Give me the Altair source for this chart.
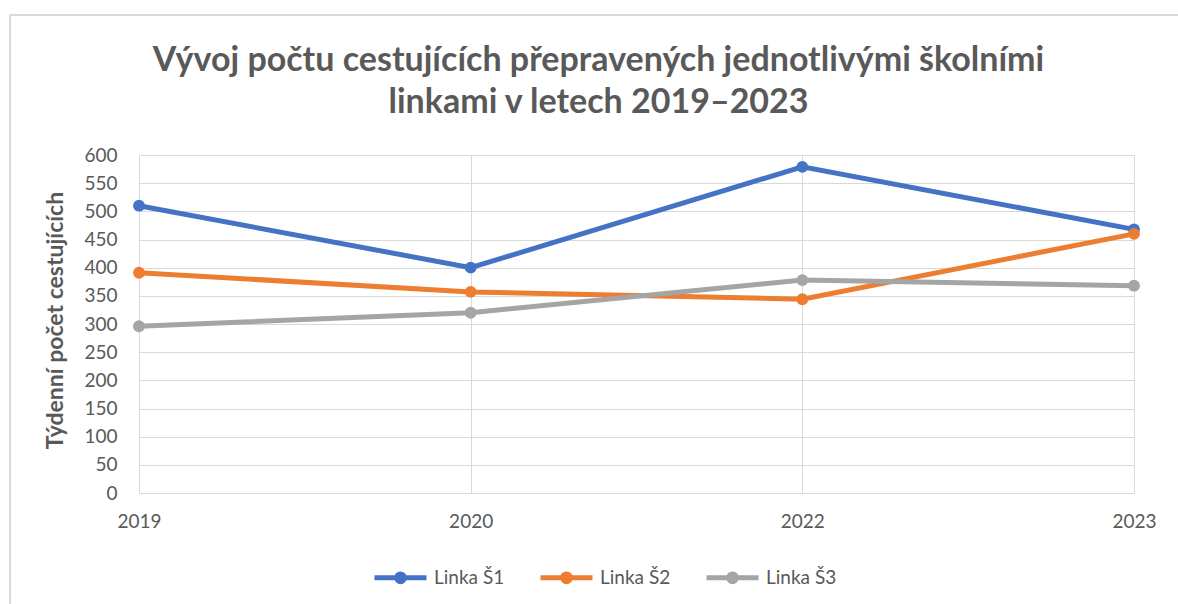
import altair as alt
import pandas as pd

years = ["2019", "2020", "2022", "2023"]
series_names = ["Linka Š1", "Linka Š2", "Linka Š3"]
linka_s1 = [510, 400, 579, 468]
linka_s2 = [391, 357, 344, 460]
linka_s3 = [296, 320, 378, 368]
colors = ["#4472C4", "#ED7D31", "#A5A5A5"]
y_ticks = list(range(0, 601, 50))

rows = []
for name, vals in zip(series_names, [linka_s1, linka_s2, linka_s3]):
    for yr, v in zip(years, vals):
        rows.append({"Rok": yr, "Linka": name, "Počet": v})
df = pd.DataFrame(rows)

FONT = "Lato"
GREY = "#595959"
GRID = "#d9d9d9"

legend_path = ("M-1,0H1"
               "M0.15,0A0.15,0.15,0,1,1,-0.15,0A0.15,0.15,0,1,1,0.15,0"
               "M0.06,0A0.06,0.06,0,1,1,-0.06,0A0.06,0.06,0,1,1,0.06,0")

lines = alt.Chart(df).mark_line(
    strokeWidth=5,
    point=alt.OverlayMarkDef(filled=True, size=140, opacity=1),
).encode(
    x=alt.X("Rok:O", sort=years,
            scale=alt.Scale(type="point", padding=0),
            axis=alt.Axis(title=None, labelAngle=0, grid=True, gridColor=GRID,
                          ticks=False, domain=False, labelPadding=19,
                          labelFont=FONT, labelFontSize=19, labelColor=GREY)),
    y=alt.Y("Počet:Q", scale=alt.Scale(domain=[0, 600], nice=False),
            axis=alt.Axis(values=y_ticks, title="Týdenní počet cestujících",
                          grid=True, gridColor=GRID, ticks=False, domain=False,
                          labelPadding=22, labelFont=FONT, labelFontSize=19,
                          labelColor=GREY, titleFont=FONT, titleFontSize=23,
                          titleFontWeight="bold", titleColor=GREY,
                          titleX=-84, titleY=165, titleAngle=270,
                          titleBaseline="middle", titleAlign="center")),
    color=alt.Color("Linka:N", sort=series_names,
                    scale=alt.Scale(domain=series_names, range=colors),
                    legend=alt.Legend(title=None, orient="none",
                                      direction="horizontal",
                                      legendX=233, legendY=394,
                                      symbolType=legend_path, symbolSize=2704,
                                      symbolStrokeWidth=5, labelOffset=5,
                                      columnPadding=25,
                                      labelFont=FONT, labelFontSize=19,
                                      labelColor=GREY)),
)

frame_top = alt.Chart(df).mark_rule(color=GRID, strokeWidth=2).encode(
    x=alt.value(-129), x2=alt.value(1039), y=alt.value(-140))
frame_left = alt.Chart(df).mark_rule(color=GRID, strokeWidth=2).encode(
    x=alt.value(-129), y=alt.value(-140), y2=alt.value(449))

chart = alt.layer(frame_top, frame_left, lines).properties(
    width=995, height=338,
    title=alt.TitleParams(
        ["Vývoj počtu cestujících přepravených jednotlivými školními",
         "linkami v letech 2019–2023"],
        font=FONT, fontSize=34, fontWeight="bold", color=GREY,
        anchor="middle", dx=-38, offset=0, dy=106, lineHeight=42),
    autosize=alt.AutoSizeParams(type="none"),
    padding={"left": 139, "top": 155, "right": 44, "bottom": 111},
    background="white",
).configure_view(stroke=None)

chart.save("out.html", embed_options={"renderer": "svg", "actions": False})
